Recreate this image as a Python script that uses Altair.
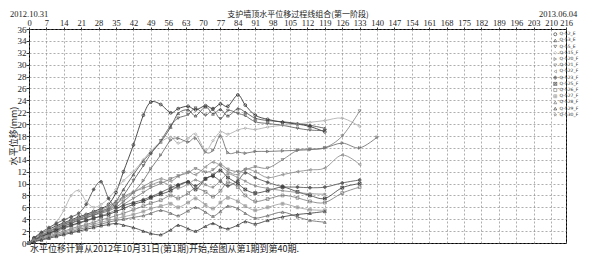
import altair as alt
import pandas as pd

days = [0, 2, 5, 8, 11, 14, 17, 20, 23, 26, 29, 32, 35, 38, 42, 46, 49, 53, 57, 60,
        64, 67, 71, 74, 77, 80, 84, 87, 91, 96, 102, 108, 113, 119, 126, 133, 140]

names = ["Q-52_E", "Q-53_E", "Q-55_E", "Q-515_F", "Q-520_F", "Q-521_F", "Q-522_F",
         "Q-523_F", "Q-525_F", "Q-526_F", "Q-527_F", "Q-528_F", "Q-529_F", "Q-530_F"]

N = None
s1 = [0, 0.8, 1.6, 2.3, 2.9, 3.4, 3.9, 4.4, 4.8, 5.3, 5.8, 6.5, 8.5, 12, 16.5, 21.5, 23.7, 23.3, 21.9, 22.6,
      23.0, 22.4, 23.1, 22.6, 23.4, 23.0, 24.9, 23.2, 21.5, 20.8, 20.3, 20.0, 19.6, 18.7, N, N, N]
s2 = [0, 0.6, 1.2, 1.9, 2.5, 3.1, 3.6, 4.1, 4.6, 5.0, 5.4, 5.9, 7.0, 9.0, 11.5, 13.8, 15.2, 17.0, 19.5, 21.8,
      22.4, 21.4, 22.9, 21.7, 22.5, 21.4, 22.6, 22.0, 21.0, 20.6, 20.4, 20.1, 19.8, 19.3, N, N, N]
s3 = [0, 0.5, 1.0, 1.6, 2.2, 2.8, 3.3, 3.8, 4.2, 4.7, 5.2, 5.6, 6.4, 8.0, 10.5, 13.0, 15.0, 17.2, 19.8, 21.0,
      21.6, 22.7, 21.5, 22.4, 20.9, 22.3, 21.8, 21.4, 20.4, 20.1, 19.8, 19.3, 19.0, 18.9, N, N, N]
s4 = [0, 0.7, 1.5, 2.4, 3.5, 5.5, 8.0, 8.8, 7.0, 6.0, 6.5, 7.5, 9.0, 10.5, 12.0, 14.0, 15.5, 17.0, 17.8, 16.8,
      17.6, 18.3, 15.6, 17.2, 18.7, 18.3, 19.0, 19.3, 19.1, 19.5, 19.8, 20.0, 20.3, 20.6, 21.0, 19.6, N]
s5 = [0, 0.5, 1.1, 1.7, 2.3, 2.9, 3.4, 3.9, 4.3, 4.7, 5.0, 5.4, 6.0, 7.0, 8.5, 10.5, 12.5, 14.8, 17.3, 17.6,
      17.0, 17.6, 15.3, 15.6, 18.0, 15.2, 15.3, 15.1, 15.4, 15.4, 15.5, 15.6, 15.7, 16.0, 16.8, 16.0, 17.8]
s6 = [0, 0.4, 0.9, 1.4, 1.9, 2.4, 2.9, 3.3, 3.7, 4.1, 4.6, 5.0, 5.6, 6.5, 7.5, 8.5, 9.3, 10.0, 10.8, 11.3,
      11.8, 12.5, 11.9, 12.3, 13.2, 12.4, 12.0, 12.3, 12.8, 12.6, 14.0, 15.6, 15.8, 16.0, 18.0, 22.2, N]
s7 = [0, 0.6, 1.3, 2.0, 2.6, 3.2, 3.7, 4.1, 4.5, 4.9, 5.3, 5.8, 6.5, 7.5, 8.5, 9.5, 10.2, 10.8, 10.4, 11.2,
      12.0, 11.5, 12.8, 13.6, 13.0, 12.0, 11.5, 12.5, 12.0, 11.0, 11.5, 12.0, 12.3, 12.6, 14.8, 13.2, N]
s8 = [0, 0.9, 1.8, 2.6, 3.3, 3.9, 4.4, 5.0, 6.5, 9.0, 10.3, 7.5, 6.0, 6.3, 6.8, 7.3, 7.8, 8.5, 9.3, 9.8,
      10.3, 9.6, 10.8, 11.2, 10.4, 9.6, 10.5, 11.8, 11.0, 10.2, 9.5, 9.4, 9.3, 9.4, 10.1, 10.6, N]
s9 = [0, 0.5, 1.1, 1.6, 2.1, 2.6, 3.0, 3.4, 3.8, 4.2, 4.5, 4.8, 5.3, 5.8, 6.5, 7.0, 7.6, 8.2, 8.8, 9.6,
      10.2, 9.0, 10.8, 11.4, 12.2, 11.0, 10.0, 9.0, 8.4, 8.8, 9.4, 8.6, 8.0, 7.5, 9.3, 10.0, N]
s10 = [0, 0.4, 0.8, 1.2, 1.6, 2.0, 2.4, 2.8, 3.1, 3.5, 3.9, 4.2, 4.6, 5.0, 5.6, 6.2, 6.7, 7.2, 8.0, 7.5,
       8.4, 9.2, 8.6, 7.8, 8.8, 10.2, 9.4, 8.0, 7.0, 7.4, 8.0, 7.6, 7.0, 6.8, 8.4, 9.4, N]
s11 = [0, 0.3, 0.7, 1.0, 1.4, 1.8, 2.2, 2.5, 2.9, 3.2, 3.5, 3.8, 4.1, 4.4, 4.8, 5.3, 5.8, 6.2, 6.6, 6.0,
       6.8, 7.5, 6.4, 5.8, 6.8, 7.6, 7.0, 6.2, 5.5, 6.0, 6.6, 6.0, 5.6, 5.5, N, N, N]
s12 = [0, 0.3, 0.6, 1.0, 1.3, 1.6, 1.9, 2.3, 2.6, 2.9, 3.2, 3.5, 3.8, 4.0, 4.3, 4.6, 5.0, 5.5, 5.0, 4.6,
       5.4, 6.0, 5.2, 4.5, 5.3, 6.2, 5.8, 5.0, 4.2, 4.6, 5.2, 4.4, 3.8, 3.5, N, N, N]
s13 = [0, 0.2, 0.5, 0.8, 1.1, 1.4, 1.7, 2.0, 2.3, 2.6, 2.9, 3.1, 3.3, 3.0, 2.6, 2.0, 1.6, 1.4, 2.2, 3.0,
       2.4, 2.0, 2.8, 3.3, 2.7, 2.4, 3.0, 3.6, 3.2, 3.8, 4.4, 4.8, 5.0, 5.3, N, N, N]
s14 = [0, 0.6, 1.3, 2.0, 2.7, 3.3, 3.8, 4.2, 4.6, 5.1, 5.6, 6.2, 7.0, 7.8, 8.6, 9.2, 9.7, 10.3, 9.6, 9.2,
       9.9, 10.6, 9.8, 9.4, 10.5, 11.6, 11.0, 10.4, 9.6, 9.2, 8.8, 8.5, 8.3, 8.2, N, N, N]

series = [s1, s2, s3, s4, s5, s6, s7, s8, s9, s10, s11, s12, s13, s14]

x_ticks = [0, 7, 14, 21, 28, 35, 42, 49, 56, 63, 70, 77, 84, 91, 98, 105, 112, 119, 126,
           133, 140, 147, 154, 161, 168, 175, 182, 189, 196, 203, 210, 216]
y_ticks = list(range(0, 37, 2))

title_text = "支护墙顶水平位移过程线组合(第一阶段)"
start_date = "2012.10.31"
end_date = "2013.06.04"
note_text = "水平位移计算从2012年10月31日(第1期)开始,绘图从第1期到第40期."
y_title = "水平位移(mm)"

rows = []
for name, vals in zip(names, series):
    for d, v in zip(days, vals):
        if v is not None:
            rows.append({"series": name, "day": d, "val": v})
df = pd.DataFrame(rows)

grays = ["#222222", "#444444", "#555555", "#aaaaaa", "#666666", "#777777", "#888888",
         "#4a4a4a", "#3a3a3a", "#777777", "#999999", "#666666", "#333333", "#888888"]
star = "M0,-1L0.22,-0.31L0.95,-0.31L0.36,0.12L0.59,0.81L0,0.38L-0.59,0.81L-0.36,0.12L-0.95,-0.31L-0.22,-0.31Z"
xbox = "M-1,-1L1,-1L1,1L-1,1ZM-1,-1L1,1M-1,1L1,-1"
cplus = "M-1,0A1,1 0 1,0 1,0A1,1 0 1,0 -1,0M-1,0L1,0M0,-1L0,1"
sqplus = "M-1,-1L1,-1L1,1L-1,1ZM-1,0L1,0M0,-1L0,1"
shapes = ["circle", "triangle-up", "triangle-down", "diamond", "triangle-right", "triangle-down",
          "triangle-left", cplus, xbox, "square", sqplus, "triangle-up", "triangle-up", star]

color_scale = alt.Scale(domain=names, range=grays)
shape_scale = alt.Scale(domain=names, range=shapes)

X = alt.X("day:Q", scale=alt.Scale(domain=[0, 216], nice=False),
          axis=alt.Axis(orient="top", values=x_ticks, title=None, labelFlush=False,
                        labelPadding=0, tickSize=2, labelFontSize=8.5))
Y = alt.Y("val:Q", scale=alt.Scale(domain=[0, 36], nice=False),
          axis=alt.Axis(values=y_ticks, title=None, labelPadding=0, tickSize=3, labelFontSize=9))

legend = alt.Legend(orient="none", legendX=524, legendY=3, title=None, labelFontSize=4.5,
                    labelFont="DejaVu Sans", symbolSize=9, rowPadding=0.2, padding=0,
                    labelOffset=2, symbolStrokeWidth=0.6, labelColor="#333")

base = alt.Chart(df)
lines = base.mark_line(interpolate="cardinal", strokeWidth=0.8).encode(
    x=X, y=Y,
    color=alt.Color("series:N", scale=color_scale, legend=legend),
    detail="series:N",
)
points = base.mark_point(filled=False, size=8, strokeWidth=0.7, opacity=1).encode(
    x=X, y=Y,
    color=alt.Color("series:N", scale=color_scale, legend=legend),
    shape=alt.Shape("series:N", scale=shape_scale, legend=legend),
)


def label(txt, x, y, font, size, align="left", angle=0):
    return alt.Chart(pd.DataFrame({"t": [txt]})).mark_text(
        font=font, fontSize=size, align=align, baseline="middle", color="#222", angle=angle
    ).encode(x=alt.value(x), y=alt.value(y), text="t:N")


t1 = label(title_text, 269, -14.5, "Noto Sans CJK SC", 8, "center")
t2 = label(start_date, -19, -15.5, "Liberation Serif", 8.5)
t3 = label(end_date, 510, -15.5, "Liberation Serif", 8.5)
t4 = label(note_text, 1, 220, "Noto Sans CJK SC", 9)
t5 = label(y_title, -15, 107, "Noto Sans CJK SC", 9, "center", 270)

chart = alt.layer(lines, points, t1, t2, t3, t4, t5).properties(
    width=537, height=214,
    autosize=alt.AutoSizeParams(type="none"),
    padding={"left": 21, "top": 21, "right": 20, "bottom": 12},
    background="white",
).configure_view(stroke="black", strokeWidth=1).configure_axis(
    grid=True, gridDash=[2, 2], gridColor="#777", gridWidth=0.6, domain=False,
    tickColor="#333", labelFont="Liberation Serif", labelColor="#222",
)

chart.save("out.html", embed_options={"renderer": "svg", "actions": False})
